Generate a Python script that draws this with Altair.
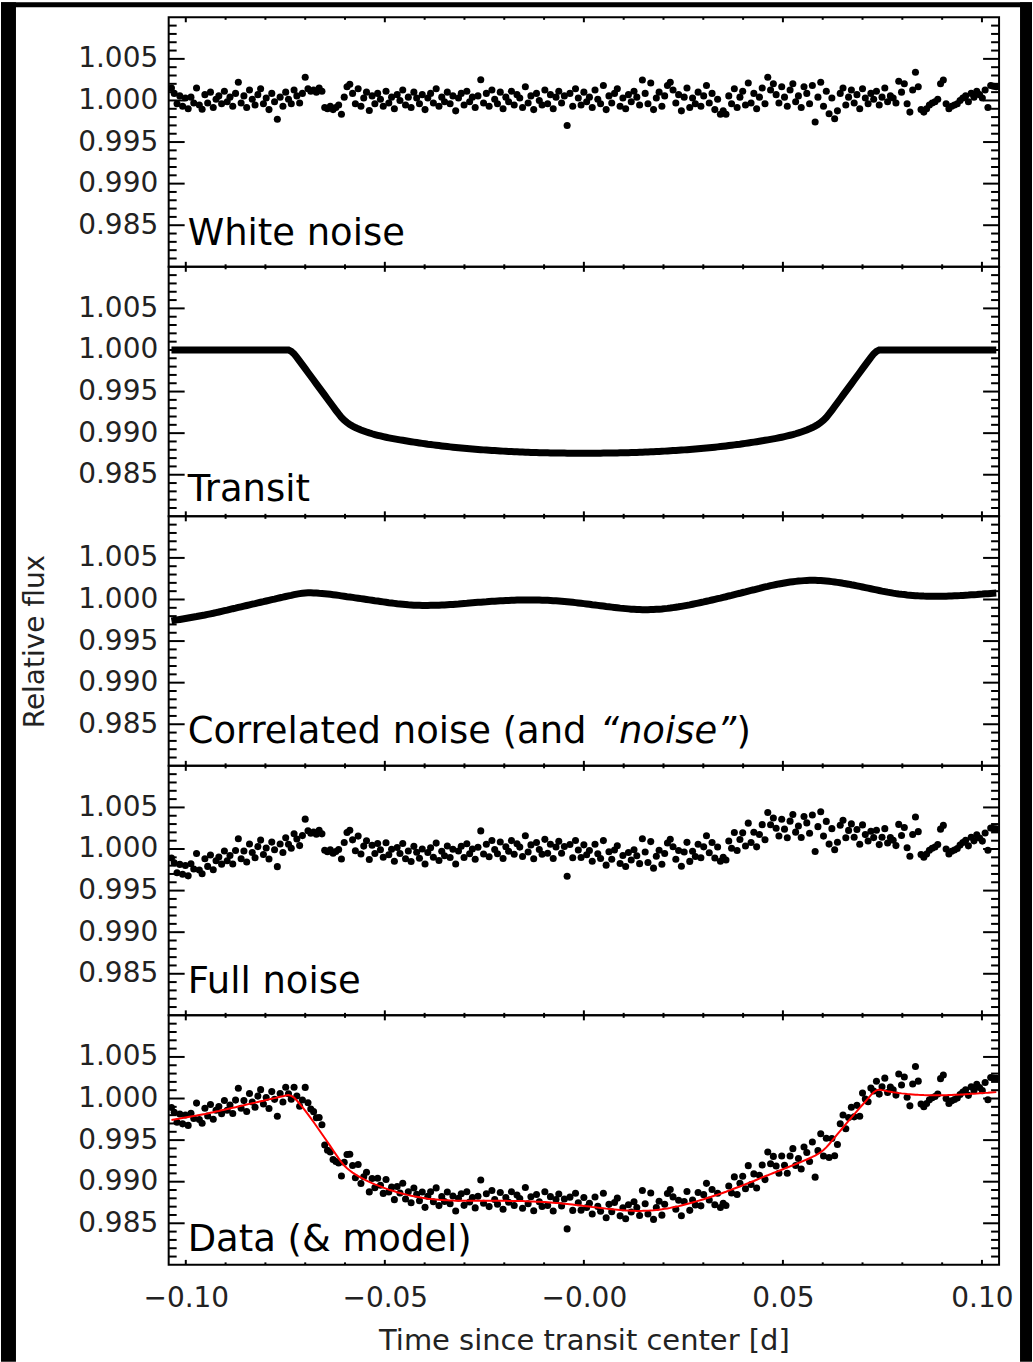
import altair as alt
import numpy as np
import pandas as pd

# Panel geometry (plot area of each stacked panel, in px)
W, H = 832, 250

# Observation times: one-minute cadence (0.0007 d) across the window
times = np.round(np.arange(-148, 149) * 0.0007, 4)

# White-noise scatter, ppm around unity
white_ppm = [
    1500, 850, -400, 550, -700, 300, -1000, 400, -300, 1500,
    -550, -1050, 700, -300, 1000, -850, 150, 550, -400, 1100,
    -150, 400, -700, 850, 2200, -300, 550, -850, 1250, 150,
    -550, 700, 1400, -400, 300, -1100, 850, -150, -2250, 400,
    -700, 1000, 150, -400, 1250, 550, -300, 850, 2800, 1400,
    1100, 1250, 1000, 1500, 1100, -850, -1000, -700, -1100, -850,
    -550, -1650, 400, 1650, 1950, 850, -400, 1400, -700, 300,
    1000, -1200, 550, -400, 850, 150, -700, 1100, -300, 400,
    -1000, 700, 0, 1250, -550, 400, -850, 1000, 300, -400,
    700, -1100, 300, 850, -300, 1400, -700, 400, -150, 1000,
    -400, 550, -1250, 300, 850, -550, 1100, -150, 400, -850,
    550, 2500, -300, 850, -700, 1250, 150, -400, 1000, -1000,
    400, -150, 1100, -550, 700, 300, -850, 1650, -300, 550,
    -1100, 850, 0, -550, 1250, -400, 700, -1000, 400, 1100,
    -300, 550, -3000, 850, -700, 1400, 300, -550, 1000, -150,
    400, -850, 1250, 150, -400, 1800, -1100, 550, -300, 850,
    1400, -700, 300, -1000, 700, -150, 1100, 400, -550, 2450,
    850, -400, 2100, -1100, 300, 1000, -700, 550, 1800, 2200,
    1250, -300, 700, -1250, 400, 1500, -850, 300, -400, 1000,
    -700, 550, 1800, -300, 850, -1100, 150, -1650, -1250, -1650,
    550, -400, 1400, -850, 400, 1100, -550, 2100, -300, 850,
    -1000, 400, 1500, -400, 2800, 1250, 2000, 700, -300, 1650,
    400, -700, 1250, 2000, -150, 550, -850, 1650, 850, -400,
    1800, -2600, 400, 2200, -700, 1100, -1600, 300, -2200, -1250,
    850, 1500, -550, 400, 1250, -300, 700, -1000, 1400, 300,
    -400, 850, 150, 1100, -550, 400, 1500, -150, 550, 300,
    -300, 2300, 1000, 2000, -400, -1400, 1250, 3400, 1650, -1100,
    -1400, -1000, -550, -300, -150, 150, 2000, 2450, -400, -1000,
    -700, -550, -400, 0, 300, 550, -150, 850, 400, 1100,
    700, 300, 1250, -850, 1800, 1700, 1650,
]

# Correlated (red) noise curve, ppm
correlated_ppm = [
    -2570, -2510, -2455, -2400, -2345, -2290, -2230, -2170, -2110, -2050,
    -1980, -1920, -1860, -1790, -1720, -1650, -1570, -1500, -1420, -1340,
    -1270, -1190, -1110, -1040, -960, -880, -800, -720, -640, -560,
    -490, -410, -330, -260, -180, -100, -20, 50, 130, 210,
    280, 360, 430, 500, 580, 650, 710, 760, 790, 800,
    800, 790, 770, 740, 720, 690, 660, 620, 580, 540,
    490, 440, 390, 340, 300, 250, 200, 150, 100, 50,
    0, -50, -100, -150, -190, -240, -290, -340, -390, -430,
    -470, -520, -550, -580, -610, -640, -660, -680, -690, -700,
    -710, -710, -710, -700, -700, -690, -680, -660, -650, -630,
    -610, -590, -560, -540, -510, -480, -460, -430, -400, -370,
    -340, -320, -290, -270, -240, -220, -200, -180, -160, -140,
    -120, -110, -90, -80, -70, -70, -60, -60, -55, -55,
    -60, -60, -70, -80, -90, -100, -120, -140, -160, -180,
    -210, -240, -270, -300, -340, -380, -420, -460, -500, -540,
    -580, -630, -670, -710, -750, -790, -840, -880, -920, -960,
    -1000, -1040, -1070, -1100, -1130, -1160, -1180, -1200, -1210, -1220,
    -1220, -1220, -1210, -1200, -1180, -1160, -1140, -1100, -1070, -1030,
    -980, -930, -880, -820, -760, -700, -640, -570, -500, -430,
    -360, -290, -210, -140, -60, 20, 100, 170, 250, 330,
    420, 500, 590, 670, 750, 840, 920, 1010, 1090, 1170,
    1260, 1340, 1430, 1510, 1580, 1660, 1730, 1800, 1870, 1930,
    1990, 2050, 2100, 2140, 2180, 2220, 2240, 2270, 2290, 2300,
    2300, 2300, 2290, 2280, 2250, 2220, 2190, 2150, 2110, 2060,
    2010, 1950, 1900, 1840, 1770, 1710, 1640, 1570, 1500, 1430,
    1360, 1290, 1220, 1150, 1080, 1010, 950, 880, 820, 760,
    710, 660, 620, 590, 550, 520, 490, 460, 440, 430,
    410, 400, 390, 390, 385, 385, 390, 390, 400, 410,
    420, 440, 460, 470, 490, 510, 530, 560, 580, 600,
    630, 650, 680, 700, 730, 750, 770,
]

# Limb-darkened transit light curve, ppm
transit_ppm = [
    0, 0, 0, 0, 0, 0, 0, 0, 0, 0,
    0, 0, 0, 0, 0, 0, 0, 0, 0, 0,
    0, 0, 0, 0, 0, 0, 0, 0, 0, 0,
    0, 0, 0, 0, 0, 0, 0, 0, 0, 0,
    0, 0, 0,
    -175, -470, -885, -1340, -1795, -2250, -2705, -3160, -3615, -4070,
    -4525, -4980, -5435, -5890, -6345, -6800, -7255, -7690, -8100, -8450,
    -8725, -8956, -9152, -9324, -9480, -9620, -9746, -9864, -9974, -10074,
    -10165, -10254, -10338, -10416, -10490, -10560, -10623, -10686, -10748, -10804,
    -10860, -10916, -10972, -11028, -11081, -11130, -11179, -11228, -11277, -11328,
    -11370, -11412, -11454, -11496, -11538, -11580, -11615, -11650, -11685, -11720,
    -11755, -11788, -11816, -11844, -11872, -11900, -11928, -11956, -11984, -12012,
    -12035, -12056, -12077, -12098, -12119, -12140, -12161, -12182, -12202, -12216,
    -12230, -12244, -12258, -12272, -12286, -12300, -12314, -12326, -12337, -12347,
    -12355, -12362, -12369, -12376, -12383, -12390, -12394, -12397, -12400, -12404,
    -12408, -12410, -12410, -12410, -12410,
    -12410,
    -12410, -12410, -12410, -12410, -12408,
    -12404, -12400, -12397, -12394, -12390, -12383, -12376, -12369, -12362, -12355,
    -12347, -12337, -12326, -12314, -12300, -12286, -12272, -12258, -12244, -12230,
    -12216, -12202, -12182, -12161, -12140, -12119, -12098, -12077, -12056, -12035,
    -12012, -11984, -11956, -11928, -11900, -11872, -11844, -11816, -11788, -11755,
    -11720, -11685, -11650, -11615, -11580, -11538, -11496, -11454, -11412, -11370,
    -11328, -11277, -11228, -11179, -11130, -11081, -11028, -10972, -10916, -10860,
    -10804, -10748, -10686, -10623, -10560, -10490, -10416, -10338, -10254, -10165,
    -10074, -9974, -9864, -9746, -9620, -9480, -9324, -9152, -8956, -8725,
    -8450, -8100, -7690, -7255, -6800, -6345, -5890, -5435, -4980, -4525,
    -4070, -3615, -3160, -2705, -2250, -1795, -1340, -885, -470, -175,
    0, 0, 0, 0, 0, 0, 0, 0, 0, 0,
    0, 0, 0, 0, 0, 0, 0, 0, 0, 0,
    0, 0, 0, 0, 0, 0, 0, 0, 0, 0,
    0, 0, 0, 0, 0, 0, 0, 0, 0, 0,
    0, 0, 0,
]

y_major = [0.985, 0.990, 0.995, 1.000, 1.005]
y_minor = [0.981, 0.982, 0.983, 0.984, 0.986, 0.987, 0.988, 0.989,
           0.991, 0.992, 0.993, 0.994, 0.996, 0.997, 0.998, 0.999,
           1.001, 1.002, 1.003, 1.004, 1.006, 1.007, 1.008, 1.009]
x_major = [-0.10, -0.05, 0.00, 0.05, 0.10]
x_minor = [-0.09, -0.08, -0.07, -0.06, -0.04, -0.03, -0.02, -0.01,
           0.01, 0.02, 0.03, 0.04, 0.06, 0.07, 0.08, 0.09]

# Series: the full noise is white + correlated; the data add the transit
w = np.array(white_ppm, dtype=float)
c = np.array(correlated_ppm, dtype=float)
tr = np.array(transit_ppm, dtype=float)

df_white = pd.DataFrame({"t": times, "flux": 1 + w * 1e-6})
df_transit = pd.DataFrame({"t": times, "flux": 1 + tr * 1e-6})
df_corr = pd.DataFrame({"t": times, "flux": 1 + c * 1e-6})
df_full = pd.DataFrame({"t": times, "flux": 1 + (w + c) * 1e-6})
df_data = pd.DataFrame({"t": times, "flux": 1 + (w + c + tr) * 1e-6})
df_model = pd.DataFrame({"t": times, "flux": 1 + (c + tr) * 1e-6})

XS = alt.Scale(domain=[-0.1043, 0.1043], nice=False, zero=False)
YS = alt.Scale(domain=[0.980, 1.010], nice=False, zero=False)

LABEL_FONT = "DejaVu Sans"


class Panel:
    """Builds the layers of one stacked panel; every layer shares the same axes."""

    def __init__(self, y_title=None, show_x=False):
        self.y_title = y_title
        self.show_x = show_x

    def X(self, field):
        if self.show_x:
            ax = alt.Axis(
                values=x_major,
                labelExpr="abs(datum.value) < 1e-9 ? '\u22120.00' : format(datum.value, '.2f')",
                labelFlush=False,
                title="Time since transit center [d]",
            )
            return alt.X(f"{field}:Q", scale=XS, axis=ax)
        return alt.X(f"{field}:Q", scale=XS, axis=None)

    def Y(self, field):
        ax = alt.Axis(values=y_major, format=".3f", title=self.y_title)
        return alt.Y(f"{field}:Q", scale=YS, axis=ax)

    def scatter(self, df):
        return alt.Chart(df).mark_circle(size=50, color="black", opacity=1, clip=True).encode(
            x=self.X("t"), y=self.Y("flux")
        )

    def curve(self, df, width, color="black"):
        return alt.Chart(df).mark_line(color=color, strokeWidth=width, clip=True).encode(
            x=self.X("t"), y=self.Y("flux")
        )

    def ticks(self):
        layers = []
        for vals, ln in ((y_major, 16), (y_minor, 8)):
            base = alt.Chart(pd.DataFrame({"v": vals})).mark_rule(color="black", strokeWidth=2)
            layers.append(base.encode(y=self.Y("v"), x=alt.value(0), x2=alt.value(ln)))
            layers.append(base.encode(y=self.Y("v"), x=alt.value(W), x2=alt.value(W - ln)))
        for vals, ln in ((x_major, 5), (x_minor, 2.5)):
            base = alt.Chart(pd.DataFrame({"v": vals})).mark_rule(color="black", strokeWidth=2)
            layers.append(base.encode(x=self.X("v"), y=alt.value(0), y2=alt.value(ln)))
            layers.append(base.encode(x=self.X("v"), y=alt.value(H), y2=alt.value(H - ln)))
        return layers


def panel_text(text, x, y, italic=False):
    return alt.Chart(pd.DataFrame({"s": [text]})).mark_text(
        align="left", baseline="alphabetic", font=LABEL_FONT, fontSize=37,
        color="black", fontStyle="italic" if italic else "normal",
    ).encode(text="s:N", x=alt.value(x), y=alt.value(y))


def black_bar(x0, x1, y0, y1):
    return alt.Chart(pd.DataFrame({"k": [0]})).mark_rect(color="black").encode(
        x=alt.value(x0), x2=alt.value(x1), y=alt.value(y0), y2=alt.value(y1)
    )


a1 = Panel()
p1 = alt.layer(
    a1.scatter(df_white), *a1.ticks(), panel_text("White noise", 19, 228)
).properties(width=W, height=H)

a2 = Panel()
p2 = alt.layer(
    a2.curve(df_transit, 7), *a2.ticks(), panel_text("Transit", 19, 235)
).properties(width=W, height=H)

a3 = Panel(y_title="Relative flux")
p3 = alt.layer(
    a3.curve(df_corr, 7), *a3.ticks(),
    panel_text("Correlated noise (and ", 19, 227),
    panel_text("\u201cnoise\u201d", 432, 227, italic=True),
    panel_text(")", 569, 227),
).properties(width=W, height=H)

a4 = Panel()
p4 = alt.layer(
    a4.scatter(df_full), *a4.ticks(), panel_text("Full noise", 19, 228)
).properties(width=W, height=H)

a5 = Panel(show_x=True)
p5 = alt.layer(
    a5.scatter(df_data),
    a5.curve(df_model, 2, color="#ff0000"),
    *a5.ticks(),
    panel_text("Data (& model)", 19, 236),
    # dark page border (left, top, right)
    black_bar(-168, -153, -1015, 347),
    black_bar(-168, 865, -1015, -1010),
    black_bar(853, 865, -1015, 347),
).properties(width=W, height=H)

chart = (
    alt.vconcat(p1, p2, p3, p4, p5, spacing=0, bounds="flush")
    .properties(padding=0, background="white")
    .configure_view(stroke="black", strokeWidth=2)
    .configure_axis(
        grid=False, domain=False, ticks=False,
        labelFont=LABEL_FONT, labelFontSize=28, labelColor="#222",
        titleFont=LABEL_FONT, titleFontSize=28, titleFontWeight="normal", titleColor="#222",
    )
    .configure_axisLeft(labelPadding=11, titlePadding=28)
    .configure_axisBottom(labelPadding=20, titlePadding=14, titleFontSize=29)
)

chart.save("out.html", embed_options={"renderer": "svg", "actions": False})
